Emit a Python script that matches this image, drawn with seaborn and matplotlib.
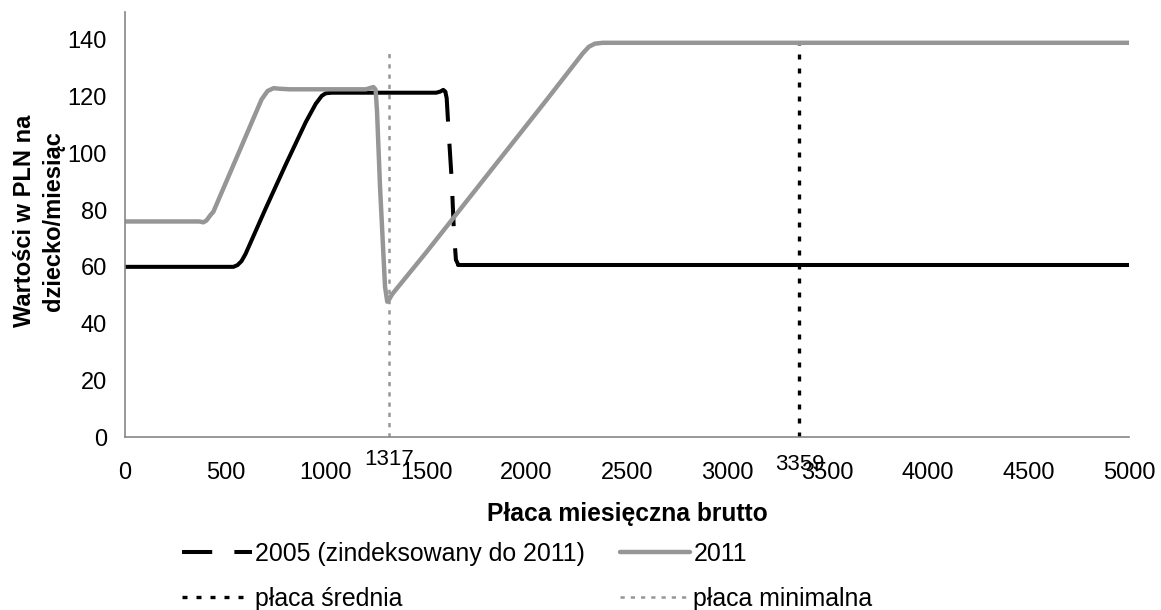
import matplotlib
matplotlib.use("Agg")
import matplotlib.pyplot as plt
import seaborn as sns

# Monthly child benefit (PLN per child) against gross monthly wage
wage_2005_main = [0, 500, 540, 560, 580, 600, 700, 800, 900, 950, 980, 1000,
                  1030, 1200, 1400, 1550, 1570, 1585, 1595]
benefit_2005_main = [60, 60, 60, 60.6, 62, 64.5, 80.5, 96, 111, 117.5, 120.3, 121.2,
                     121.4, 121.4, 121.4, 121.4, 121.8, 122.4, 121.8]
wage_2005_drop = [1595, 1602, 1610, 1627, 1638, 1648, 1660]
benefit_2005_drop = [121.8, 119.5, 109.7, 90.6, 72.4, 62.5, 60.7]
wage_2005_tail = [1660, 5000]
benefit_2005_tail = [60.7, 60.7]

wage_2011 = [0, 370, 390, 405, 425, 440, 500, 600, 680, 710, 740, 770, 820,
             1000, 1200, 1237, 1248, 1255, 1270, 1295, 1306, 1318, 1330,
             1500, 1800, 2100, 2280, 2310, 2340, 2380, 5000]
benefit_2011 = [76, 76, 75.7, 76.3, 78.2, 79.4, 89.3, 105.8, 119, 122, 123, 122.8, 122.6,
                122.6, 122.6, 123.4, 122.5, 115, 88.3, 53, 47.7, 48.8, 50.3,
                65.1, 92.0, 118.9, 135.3, 137.6, 138.7, 139, 139]

avg_wage = 3359
min_wage = 1317
avg_wage_line = [0, 139]
min_wage_line = [0, 137]

x_ticks = list(range(0, 5001, 500))
y_ticks = list(range(0, 141, 20))

labels = {
    "s2005": "2005 (zindeksowany do 2011)",
    "s2011": "2011",
    "avg": "płaca średnia",
    "min": "płaca minimalna",
}

sns.set_style("white")
plt.rcParams["font.family"] = ["Liberation Sans", "DejaVu Sans"]
plt.rcParams["text.color"] = "black"
plt.rcParams["axes.labelcolor"] = "black"

BLACK = "#000000"
GREY = "#969696"
AXIS = "#868686"

fig = plt.figure(figsize=(11.61, 6.10), dpi=100)
ax = fig.add_axes([125 / 1161, 1 - 437 / 610, 1004 / 1161, (437 - 11.6) / 610])

# reference wage markers
sns.lineplot(x=[avg_wage, avg_wage], y=avg_wage_line, ax=ax, estimator=None, sort=False,
             color=BLACK, lw=2.4, linestyle=(0, (1.5, 2.7)), dash_capstyle="butt",
             label=labels["avg"])
sns.lineplot(x=[min_wage, min_wage], y=min_wage_line, ax=ax, estimator=None, sort=False,
             color=GREY, lw=1.8, linestyle=(0, (1.7, 2.4)), dash_capstyle="butt",
             label=labels["min"])

# 2005 schedule (indexed)
sns.lineplot(x=wage_2005_main, y=benefit_2005_main, ax=ax, estimator=None, sort=False,
             color=BLACK, lw=2.9, solid_capstyle="round", solid_joinstyle="round")
sns.lineplot(x=wage_2005_drop, y=benefit_2005_drop, ax=ax, estimator=None, sort=False,
             color=BLACK, lw=2.9, linestyle=(0, (7.5, 5.5)), dash_capstyle="butt",
             label=labels["s2005"])
sns.lineplot(x=wage_2005_tail, y=benefit_2005_tail, ax=ax, estimator=None, sort=False,
             color=BLACK, lw=2.9, solid_capstyle="round")

# 2011 schedule
sns.lineplot(x=wage_2011, y=benefit_2011, ax=ax, estimator=None, sort=False,
             color=GREY, lw=3.2, solid_capstyle="round", solid_joinstyle="round",
             label=labels["s2011"])

if ax.get_legend() is not None:
    ax.get_legend().remove()

ax.set_xlim(0, 5000)
ax.set_ylim(0, 150)
ax.set_xticks(x_ticks)
ax.set_yticks(y_ticks)
ax.tick_params(axis="both", direction="out", length=6, width=1, color=AXIS,
               labelsize=17, labelcolor=BLACK)
ax.tick_params(axis="x", pad=12)
ax.tick_params(axis="y", pad=7)
for side in ("top", "right"):
    ax.spines[side].set_visible(False)
for side in ("left", "bottom"):
    ax.spines[side].set_color(AXIS)
    ax.spines[side].set_linewidth(1.2)

ax.set_xlabel("Płaca miesięczna brutto", fontsize=17.7, fontweight="bold")
ax.xaxis.set_label_coords(0.5, (437 - 502) / (437 - 11.6))
ax.xaxis.label.set_va("top")
ax.set_ylabel("Wartości w PLN na\ndziecko/miesiąc", fontsize=17, fontweight="bold",
              multialignment="center", linespacing=1.35)
ax.yaxis.set_label_coords((39 - 125) / 1004, (437 - 221) / (437 - 11.6))
ax.yaxis.label.set_va("center")

# value labels for the wage markers
ax.text(min_wage, -9.9, str(min_wage), ha="center", va="baseline", fontsize=16, clip_on=False)
ax.text(avg_wage, -11.8, str(avg_wage), ha="center", va="baseline", fontsize=16, clip_on=False)

handles, labs = ax.get_legend_handles_labels()
lookup = dict(zip(labs, handles))
order = [labels["s2005"], labels["avg"], labels["s2011"], labels["min"]]
fig.legend([lookup[k] for k in order], order, loc="upper left",
           bbox_to_anchor=(182 / 1161, 1 - 542 / 610), ncol=2, frameon=False,
           fontsize=17.9, handlelength=2.8, handletextpad=0.15, columnspacing=1.4,
           labelspacing=0.85, borderpad=0, borderaxespad=0)

fig.savefig("out.png", dpi=100)
